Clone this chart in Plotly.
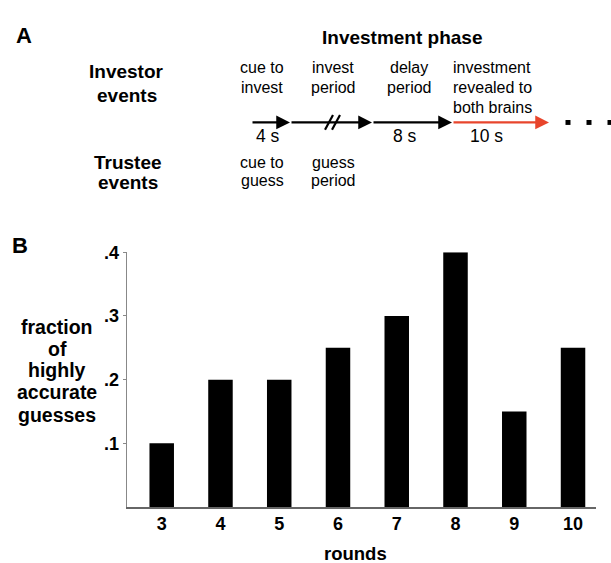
import plotly.graph_objects as go

# Panel B data
rounds = [3, 4, 5, 6, 7, 8, 9, 10]
fraction_accurate = [0.10, 0.20, 0.20, 0.25, 0.30, 0.40, 0.15, 0.25]
y_tickvals = [0.1, 0.2, 0.3, 0.4]
y_ticktext = [".1", ".2", ".3", ".4"]

W, H = 611, 563
FONT = "Liberation Sans, Arial, sans-serif"


def X(px):
    return px / W


def Y(py):
    return 1 - py / H


fig = go.Figure()
fig.add_trace(go.Bar(x=rounds, y=fraction_accurate, width=0.417,
                     marker=dict(color="black", line=dict(width=0))))

annotations = []


def text(px, py, s, size, bold=False, color="black", xanchor="center"):
    annotations.append(dict(
        x=X(px), y=Y(py), xref="paper", yref="paper", showarrow=False,
        text=f"<b>{s}</b>" if bold else s, xanchor=xanchor, yanchor="middle",
        font=dict(family=FONT, size=size, color=color)))


# Panel letters
text(14, 26, "A", 22, bold=True, xanchor="left")
text(10, 240, "B", 22, bold=True, xanchor="left")

# Panel A: timeline labels
text(403, 28, "Investment phase", 19, bold=True)
text(127, 63, "Investor", 19, bold=True)
text(127, 87, "events", 19, bold=True)
text(128, 155, "Trustee", 19, bold=True)
text(128, 176, "events", 19, bold=True)

for cx, lines in [(262, ["cue to", "invest"]),
                  (333, ["invest", "period"]),
                  (409, ["delay", "period"]),
                  (492, ["investment", "revealed to", "both brains"])]:
    for i, s in enumerate(lines):
        text(cx, 59 + i * 20, s, 16)

for cx, lines in [(262, ["cue to", "guess"]), (333, ["guess", "period"])]:
    for i, s in enumerate(lines):
        text(cx, 155 + i * 19, s, 16)

text(268, 128, "4 s", 17.5)
text(405, 128, "8 s", 17.5)
text(487, 128, "10 s", 17.5)

# Timeline arrows
AY = 114.5
for x0, x1, col in [(251, 290, "black"), (290, 372, "black"),
                    (372, 452, "black"), (452, 549, "#e8452c")]:
    annotations.append(dict(
        x=X(x1), y=Y(AY), xref="paper", yref="paper",
        ax=-(x1 - x0), ay=0, axref="pixel", ayref="pixel",
        showarrow=True, arrowhead=2, arrowsize=1.25, arrowwidth=2.2,
        arrowcolor=col, standoff=0, text=""))

shapes = []
# break marks on the invest period
for dx in (0, 7):
    shapes.append(dict(type="line", xref="paper", yref="paper",
                       x0=X(325 + dx), y0=Y(122), x1=X(333 + dx), y1=Y(107),
                       line=dict(color="black", width=2.2)))
# trailing dots
for cx in (568, 589, 610):
    shapes.append(dict(type="rect", xref="paper", yref="paper",
                       x0=X(cx - 2.5), x1=X(cx + 2.5), y0=Y(AY - 2.5), y1=Y(AY + 2.5),
                       fillcolor="black", line=dict(width=0)))

# Panel B: y title, one line at a time for tight spacing
for py, s in zip([323, 345, 367, 389, 412],
                 ["fraction", "of", "highly", "accurate", "guesses"]):
    text(57, py, s, 19.5, bold=True)
text(355, 553, "rounds", 18.5, bold=True)

fig.update_layout(
    width=W, height=H, margin=dict(l=0, r=0, t=0, b=0),
    paper_bgcolor="white", plot_bgcolor="white", showlegend=False,
    annotations=annotations, shapes=shapes,
    xaxis=dict(domain=[X(126.7), X(595.7)], range=[2.404, 10.386],
               tickvals=rounds, ticktext=[f"<b>{r}</b>" for r in rounds],
               tickfont=dict(family=FONT, size=18, color="black"),
               showline=True, linecolor="#666", linewidth=1.5,
               ticks="", showgrid=False, zeroline=False, fixedrange=True),
    yaxis=dict(domain=[Y(506), Y(246.7)], range=[0, 0.4],
               tickvals=y_tickvals, ticktext=[f"<b>{t}</b>" for t in y_ticktext],
               tickfont=dict(family=FONT, size=18, color="black"),
               showline=True, linecolor="#888", linewidth=1.2,
               ticks="outside", ticklen=3, tickcolor="#888", tickwidth=1,
               showgrid=False, zeroline=False, fixedrange=True),
)

fig.write_html("out.html")
